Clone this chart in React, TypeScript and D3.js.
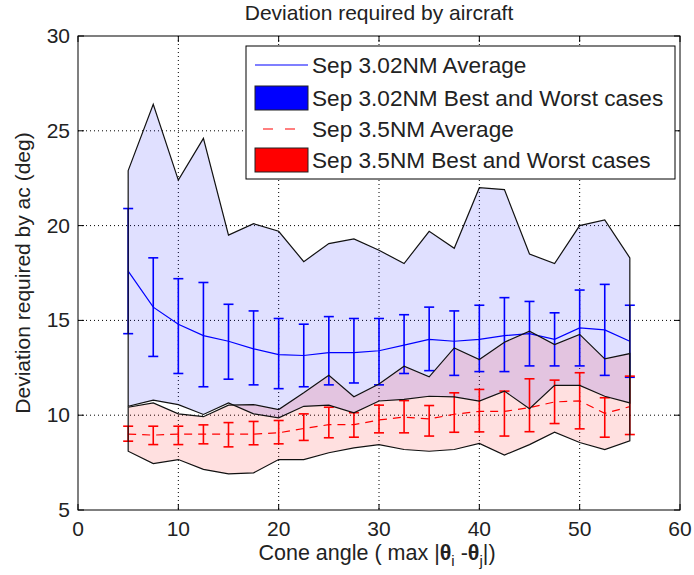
import React, { useEffect, useRef } from "react";
import * as d3 from "d3";

const width = 694;
const height = 575;

// cone angle (deg) sample points
const coneAngles = [5, 7.5, 10, 12.5, 15, 17.5, 20, 22.5, 25, 27.5, 30, 32.5, 35, 37.5, 40, 42.5, 45, 47.5, 50, 52.5, 55];

// Sep 3.02NM
const avg302 = [17.6, 15.7, 14.8, 14.2, 13.9, 13.5, 13.2, 13.15, 13.3, 13.3, 13.4, 13.7, 14.0, 13.9, 14.0, 14.2, 14.3, 14.0, 14.6, 14.5, 13.9];
const errHigh302 = [20.9, 18.3, 17.2, 17.0, 15.85, 15.5, 15.1, 14.8, 15.2, 15.1, 15.1, 15.3, 15.7, 15.5, 15.8, 16.2, 16.0, 15.4, 16.6, 16.9, 15.8];
const errLow302 = [14.3, 13.1, 12.2, 11.5, 11.9, 11.6, 11.4, 11.5, 11.6, 11.7, 11.6, 12.2, 12.35, 12.1, 12.3, 12.3, 12.6, 12.6, 12.6, 12.1, 12.0];
const worst302 = [22.9, 26.4, 22.4, 24.6, 19.5, 20.1, 19.7, 18.1, 19.05, 19.3, 18.7, 18.0, 19.7, 18.8, 22.0, 21.9, 18.5, 18.0, 20.0, 20.3, 18.3];
const best302 = [10.47, 10.79, 10.56, 10.04, 10.65, 10.07, 9.86, 10.47, 10.53, 10.13, 10.75, 10.83, 11.0, 10.97, 10.74, 11.27, 10.34, 11.57, 11.57, 11.0, 10.65];

// Sep 3.5NM
const avg35 = [9.0, 8.95, 9.0, 9.0, 9.0, 9.0, 9.07, 9.3, 9.5, 9.5, 9.75, 9.9, 9.8, 10.05, 10.2, 10.2, 10.4, 10.7, 10.75, 10.1, 10.45];
const errHigh35 = [9.42, 9.42, 9.42, 9.49, 9.61, 9.67, 9.72, 10.07, 10.42, 10.13, 10.53, 10.77, 10.51, 11.18, 11.36, 11.27, 11.92, 11.85, 12.24, 10.92, 12.06];
const errLow35 = [8.63, 8.45, 8.45, 8.49, 8.33, 8.44, 8.49, 8.67, 8.81, 8.84, 9.07, 9.07, 8.9, 9.1, 9.12, 8.9, 9.13, 9.56, 9.28, 8.84, 8.98];
const worst35 = [10.42, 10.65, 10.07, 9.92, 10.53, 10.56, 10.3, 11.18, 12.11, 10.97, 11.65, 12.58, 12.02, 13.55, 12.94, 13.85, 14.43, 13.73, 14.26, 12.97, 13.25];
const best35 = [8.1, 7.45, 7.66, 7.14, 6.91, 6.96, 7.66, 7.66, 8.02, 8.28, 8.45, 8.19, 8.1, 8.19, 8.51, 7.9, 8.45, 9.1, 8.56, 8.19, 8.65];

const xTicks = [0, 10, 20, 30, 40, 50, 60];
const yTicks = [5, 10, 15, 20, 25, 30];

const legendLabels = [
  "Sep 3.02NM Average",
  "Sep 3.02NM Best and Worst cases",
  "Sep 3.5NM Average",
  "Sep 3.5NM Best and Worst cases",
];

const font = "'Liberation Sans', Arial, Helvetica, sans-serif";

function DeviationChart() {
  const svgRef = useRef<SVGSVGElement>(null);

  useEffect(() => {
    const svg = d3.select(svgRef.current);
    svg.selectAll("*").remove();

    const left = 78;
    const right = 680;
    const top = 36;
    const bottom = 510;

    const x = d3.scaleLinear().domain([0, 60]).range([left, right]);
    const y = d3.scaleLinear().domain([5, 30]).range([bottom, top]);

    svg.append("rect").attr("width", width).attr("height", height).attr("fill", "#fff");

    // dotted grid
    const grid = svg.append("g").attr("stroke", "#000").attr("stroke-width", 1).attr("stroke-dasharray", "1,3");
    xTicks.slice(1, -1).forEach((t) => {
      grid.append("line").attr("x1", x(t)).attr("x2", x(t)).attr("y1", top).attr("y2", bottom);
    });
    yTicks.slice(1, -1).forEach((t) => {
      grid.append("line").attr("x1", left).attr("x2", right).attr("y1", y(t)).attr("y2", y(t));
    });

    const bandPath = (upper: number[], lower: number[]) => {
      const pts: [number, number][] = [
        ...upper.map((v, i) => [x(coneAngles[i]), y(v)] as [number, number]),
        ...lower.map((v, i) => [x(coneAngles[i]), y(v)] as [number, number]).reverse(),
      ];
      return d3.line()(pts) + "Z";
    };

    // band fills
    svg.append("path").attr("d", bandPath(worst302, best302)).attr("fill", "#0000ff").attr("fill-opacity", 0.12);
    svg.append("path").attr("d", bandPath(worst35, best35)).attr("fill", "#ff0000").attr("fill-opacity", 0.12);

    const drawErrors = (avg: number[], lo: number[], hi: number[], color: string, dash: string | null) => {
      const g = svg.append("g").attr("stroke", color).attr("fill", "none");
      const cap = 5;
      coneAngles.forEach((c, i) => {
        const cx = x(c);
        g.append("line").attr("x1", cx).attr("x2", cx).attr("y1", y(lo[i])).attr("y2", y(hi[i])).attr("stroke-width", 1.6);
        g.append("line").attr("x1", cx - cap).attr("x2", cx + cap).attr("y1", y(lo[i])).attr("y2", y(lo[i])).attr("stroke-width", 1.6);
        g.append("line").attr("x1", cx - cap).attr("x2", cx + cap).attr("y1", y(hi[i])).attr("y2", y(hi[i])).attr("stroke-width", 1.6);
      });
      const line = d3
        .line<number>()
        .x((_, i) => x(coneAngles[i]))
        .y((d) => y(d));
      const p = g.append("path").datum(avg).attr("d", line).attr("stroke-width", 1.2);
      if (dash) p.attr("stroke-dasharray", dash);
    };

    drawErrors(avg302, errLow302, errHigh302, "#0000ff", null);
    drawErrors(avg35, errLow35, errHigh35, "#ff0000", "8,6");

    // band edges on top
    svg.append("path").attr("d", bandPath(worst302, best302)).attr("fill", "none").attr("stroke", "#111").attr("stroke-width", 1.2);
    svg.append("path").attr("d", bandPath(worst35, best35)).attr("fill", "none").attr("stroke", "#111").attr("stroke-width", 1.2);

    // axes box and inward ticks
    svg.append("rect").attr("x", left).attr("y", top).attr("width", right - left).attr("height", bottom - top).attr("fill", "none").attr("stroke", "#000");
    const tickLen = 6;
    const ticks = svg.append("g").attr("stroke", "#000");
    xTicks.forEach((t) => {
      ticks.append("line").attr("x1", x(t)).attr("x2", x(t)).attr("y1", bottom).attr("y2", bottom - tickLen);
      ticks.append("line").attr("x1", x(t)).attr("x2", x(t)).attr("y1", top).attr("y2", top + tickLen);
    });
    yTicks.forEach((t) => {
      ticks.append("line").attr("x1", left).attr("x2", left + tickLen).attr("y1", y(t)).attr("y2", y(t));
      ticks.append("line").attr("x1", right).attr("x2", right - tickLen).attr("y1", y(t)).attr("y2", y(t));
    });

    const labels = svg.append("g").style("font-family", font).style("font-size", "21px").attr("fill", "#222");
    xTicks.forEach((t) => {
      labels.append("text").attr("x", x(t)).attr("y", bottom + 26).attr("text-anchor", "middle").text(t);
    });
    yTicks.forEach((t) => {
      labels.append("text").attr("x", left - 8).attr("y", y(t) + 7).attr("text-anchor", "end").text(t);
    });

    // title
    labels.append("text").attr("x", (left + right) / 2).attr("y", 20).attr("text-anchor", "middle").text("Deviation required by aircraft");

    // x label with theta subscripts
    const xl = labels.append("text").attr("x", (left + right) / 2 - 2).attr("y", 560).attr("text-anchor", "middle").style("font-size", "21.5px");
    xl.append("tspan").text("Cone angle ( max |");
    xl.append("tspan").attr("font-weight", "bold").text("θ");
    xl.append("tspan").attr("dy", 6).style("font-size", "15px").text("i");
    xl.append("tspan").attr("dy", -6).text(" -");
    xl.append("tspan").attr("font-weight", "bold").text("θ");
    xl.append("tspan").attr("dy", 6).style("font-size", "15px").text("j");
    xl.append("tspan").attr("dy", -6).text("|)");

    // y label
    labels
      .append("text")
      .attr("transform", `translate(30,${(top + bottom) / 2}) rotate(-90)`)
      .attr("text-anchor", "middle")
      .text("Deviation required by ac (deg)");

    // legend
    const lg = svg.append("g");
    lg.append("rect").attr("x", 246).attr("y", 46).attr("width", 429).attr("height", 133).attr("fill", "#fff").attr("stroke", "#000");
    const rowY = [65, 98, 129, 160];
    lg.append("line").attr("x1", 255).attr("x2", 308).attr("y1", rowY[0]).attr("y2", rowY[0]).attr("stroke", "#0000ff").attr("stroke-width", 1.2);
    lg.append("rect").attr("x", 255).attr("y", rowY[1] - 12).attr("width", 53).attr("height", 24).attr("fill", "#0000ff").attr("stroke", "#222");
    lg.append("line").attr("x1", 263).attr("x2", 300).attr("y1", rowY[2]).attr("y2", rowY[2]).attr("stroke", "#ff0000").attr("stroke-width", 1.2).attr("stroke-dasharray", "10,12");
    lg.append("rect").attr("x", 255).attr("y", rowY[3] - 12).attr("width", 53).attr("height", 24).attr("fill", "#ff0000").attr("stroke", "#222");
    legendLabels.forEach((l, i) => {
      lg.append("text").attr("x", 312).attr("y", rowY[i] + 8).style("font-family", font).style("font-size", "22.6px").attr("fill", "#222").text(l);
    });
  }, []);

  return <svg ref={svgRef} width={width} height={height} style={{ position: "absolute", left: 0, top: 0 }}></svg>;
}

export default function App() {
  return <DeviationChart />;
}
